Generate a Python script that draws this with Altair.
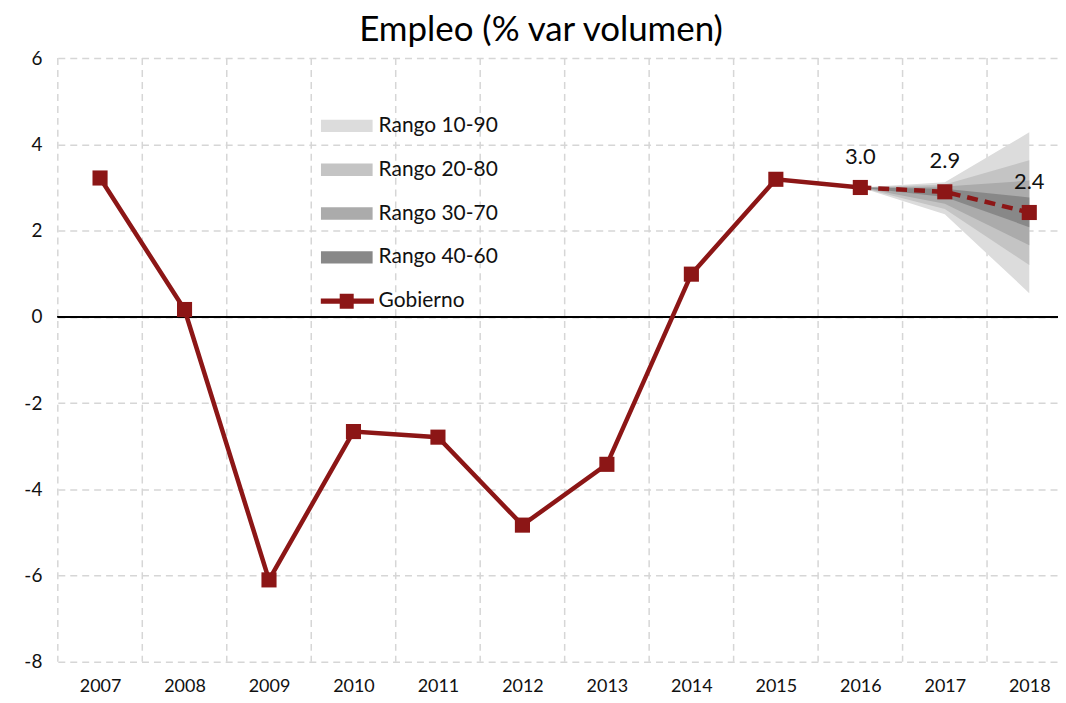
import altair as alt
import pandas as pd

# ---------------- data ----------------
years = [2007, 2008, 2009, 2010, 2011, 2012, 2013, 2014, 2015, 2016, 2017, 2018]
gobierno = [3.22, 0.17, -6.1, -2.66, -2.79, -4.83, -3.42, 0.99, 3.19, 3.0, 2.9, 2.42]

fan_years = [2016, 2017, 2018]
p10 = [3.0, 2.38, 0.55]
p90 = [3.0, 3.12, 4.28]
p20 = [3.0, 2.50, 1.20]
p80 = [3.0, 3.07, 3.63]
p30 = [3.0, 2.62, 1.66]
p70 = [3.0, 3.02, 3.16]
p40 = [3.0, 2.78, 2.08]
p60 = [3.0, 2.97, 2.77]

label_years = [2016, 2017, 2018]
label_texts = ["3.0", "2.9", "2.4"]

y_ticks = [6, 4, 2, 0, -2, -4, -6, -8]

series_names = ["Rango 10-90", "Rango 20-80", "Rango 30-70", "Rango 40-60", "Gobierno"]

# ---------------- style ----------------
FONT = "Lato"
RED = "#8c1616"
series_colors = ["#dcdcdc", "#c4c4c4", "#ababab", "#888888", RED]
rect_path = "M-1,-0.24L1,-0.24L1,0.24L-1,0.24Z"
gob_path = ("M-1.05,-0.1L-0.27,-0.1L-0.27,-0.29L0.27,-0.29L0.27,-0.1L1.05,-0.1"
            "L1.05,0.1L0.27,0.1L0.27,0.29L-0.27,0.29L-0.27,0.1L-1.05,0.1Z")
series_shapes = [rect_path, rect_path, rect_path, rect_path, gob_path]

# ---------------- tables ----------------
main = pd.DataFrame({"year": years, "value": gobierno})
solid = main[main["year"] <= 2016]
dashed = main[main["year"] >= 2016]

fan_rows = []
for name, lo, hi in [("Rango 10-90", p10, p90), ("Rango 20-80", p20, p80),
                     ("Rango 30-70", p30, p70), ("Rango 40-60", p40, p60)]:
    for yr, l, h in zip(fan_years, lo, hi):
        fan_rows.append({"year": yr, "value": l, "hi": h, "serie": name})
fan = pd.DataFrame(fan_rows)

labels = pd.DataFrame({"year": label_years, "text": label_texts,
                       "value": [gobierno[years.index(y)] for y in label_years]})
bounds = pd.DataFrame({"year": [y - 0.5 for y in years]})
legend_df = pd.DataFrame({"serie": series_names, "year": [2010] * 5, "value": [0] * 5})

xscale = alt.Scale(domain=[2006.5, 2018.34], nice=False, zero=False)
yscale = alt.Scale(domain=[-8, 6], nice=False)
xaxis = alt.Axis(values=years, format="d", grid=False, ticks=False, domain=False,
                 labelPadding=16, title=None, labelFontSize=18)
yaxis = alt.Axis(values=y_ticks, grid=True, gridDash=[7, 5], gridColor="#d6d6d6",
                 gridWidth=1.5, ticks=False, domain=False, labelPadding=16,
                 title=None, labelFontSize=19, labelExpr="'' + datum.value")

color_scale = alt.Scale(domain=series_names, range=series_colors)
shape_scale = alt.Scale(domain=series_names, range=series_shapes)
legend = alt.Legend(title=None, orient="none", legendX=264, legendY=50,
                    symbolSize=2704, symbolStrokeWidth=0, symbolOpacity=1,
                    labelFont=FONT, labelFontSize=21, labelColor="#111",
                    labelOffset=6, rowPadding=8, clipHeight=36, labelLimit=300)

X = alt.X("year:Q", scale=xscale, axis=xaxis)
Y = alt.Y("value:Q", scale=yscale, axis=yaxis)

vgrid = alt.Chart(bounds).mark_rule(color="#d6d6d6", strokeWidth=1.5, strokeDash=[7, 5]).encode(
    x=X
)

areas = []
for name in series_names[:4]:
    areas.append(
        alt.Chart(fan).transform_filter(alt.datum.serie == name).mark_area(opacity=1).encode(
            x=X, y=Y, y2="hi:Q",
            color=alt.Color("serie:N", scale=color_scale, legend=legend),
        )
    )

zero = alt.Chart(main).mark_rule(color="#000", strokeWidth=1.5).encode(y=alt.datum(0))

line_solid = alt.Chart(solid).mark_line(color=RED, strokeWidth=4.5).encode(x=X, y=Y)
line_dash = alt.Chart(dashed).mark_line(color=RED, strokeWidth=4.5, strokeDash=[11, 7]).encode(x=X, y=Y)
squares = alt.Chart(main).mark_square(color=RED, size=230, opacity=1).encode(x=X, y=Y)

texts = alt.Chart(labels).mark_text(font=FONT, fontSize=22, color="#111", dy=-31,
                                    baseline="middle").encode(x=X, y=Y, text="text:N")

legend_layer = alt.Chart(legend_df).mark_point(filled=True, opacity=0).encode(
    x=X, y=Y,
    color=alt.Color("serie:N", scale=color_scale, legend=legend),
    shape=alt.Shape("serie:N", scale=shape_scale, legend=legend),
)

chart = alt.layer(
    vgrid, *areas, zero, line_solid, line_dash, squares, texts, legend_layer
).properties(
    width=1004, height=606,
    title=alt.TitleParams("Empleo (% var volumen)", font=FONT, fontSize=35,
                          fontWeight="normal", anchor="middle", offset=1, dx=-17,
                          color="#000"),
    autosize=alt.AutoSizeParams(type="none"),
    padding={"left": 50, "top": 49, "right": 0, "bottom": 32},
).configure_view(stroke=None).configure_axis(
    labelFont=FONT, labelColor="#111"
)

chart.save("out.html", embed_options={"renderer": "svg", "actions": False})
